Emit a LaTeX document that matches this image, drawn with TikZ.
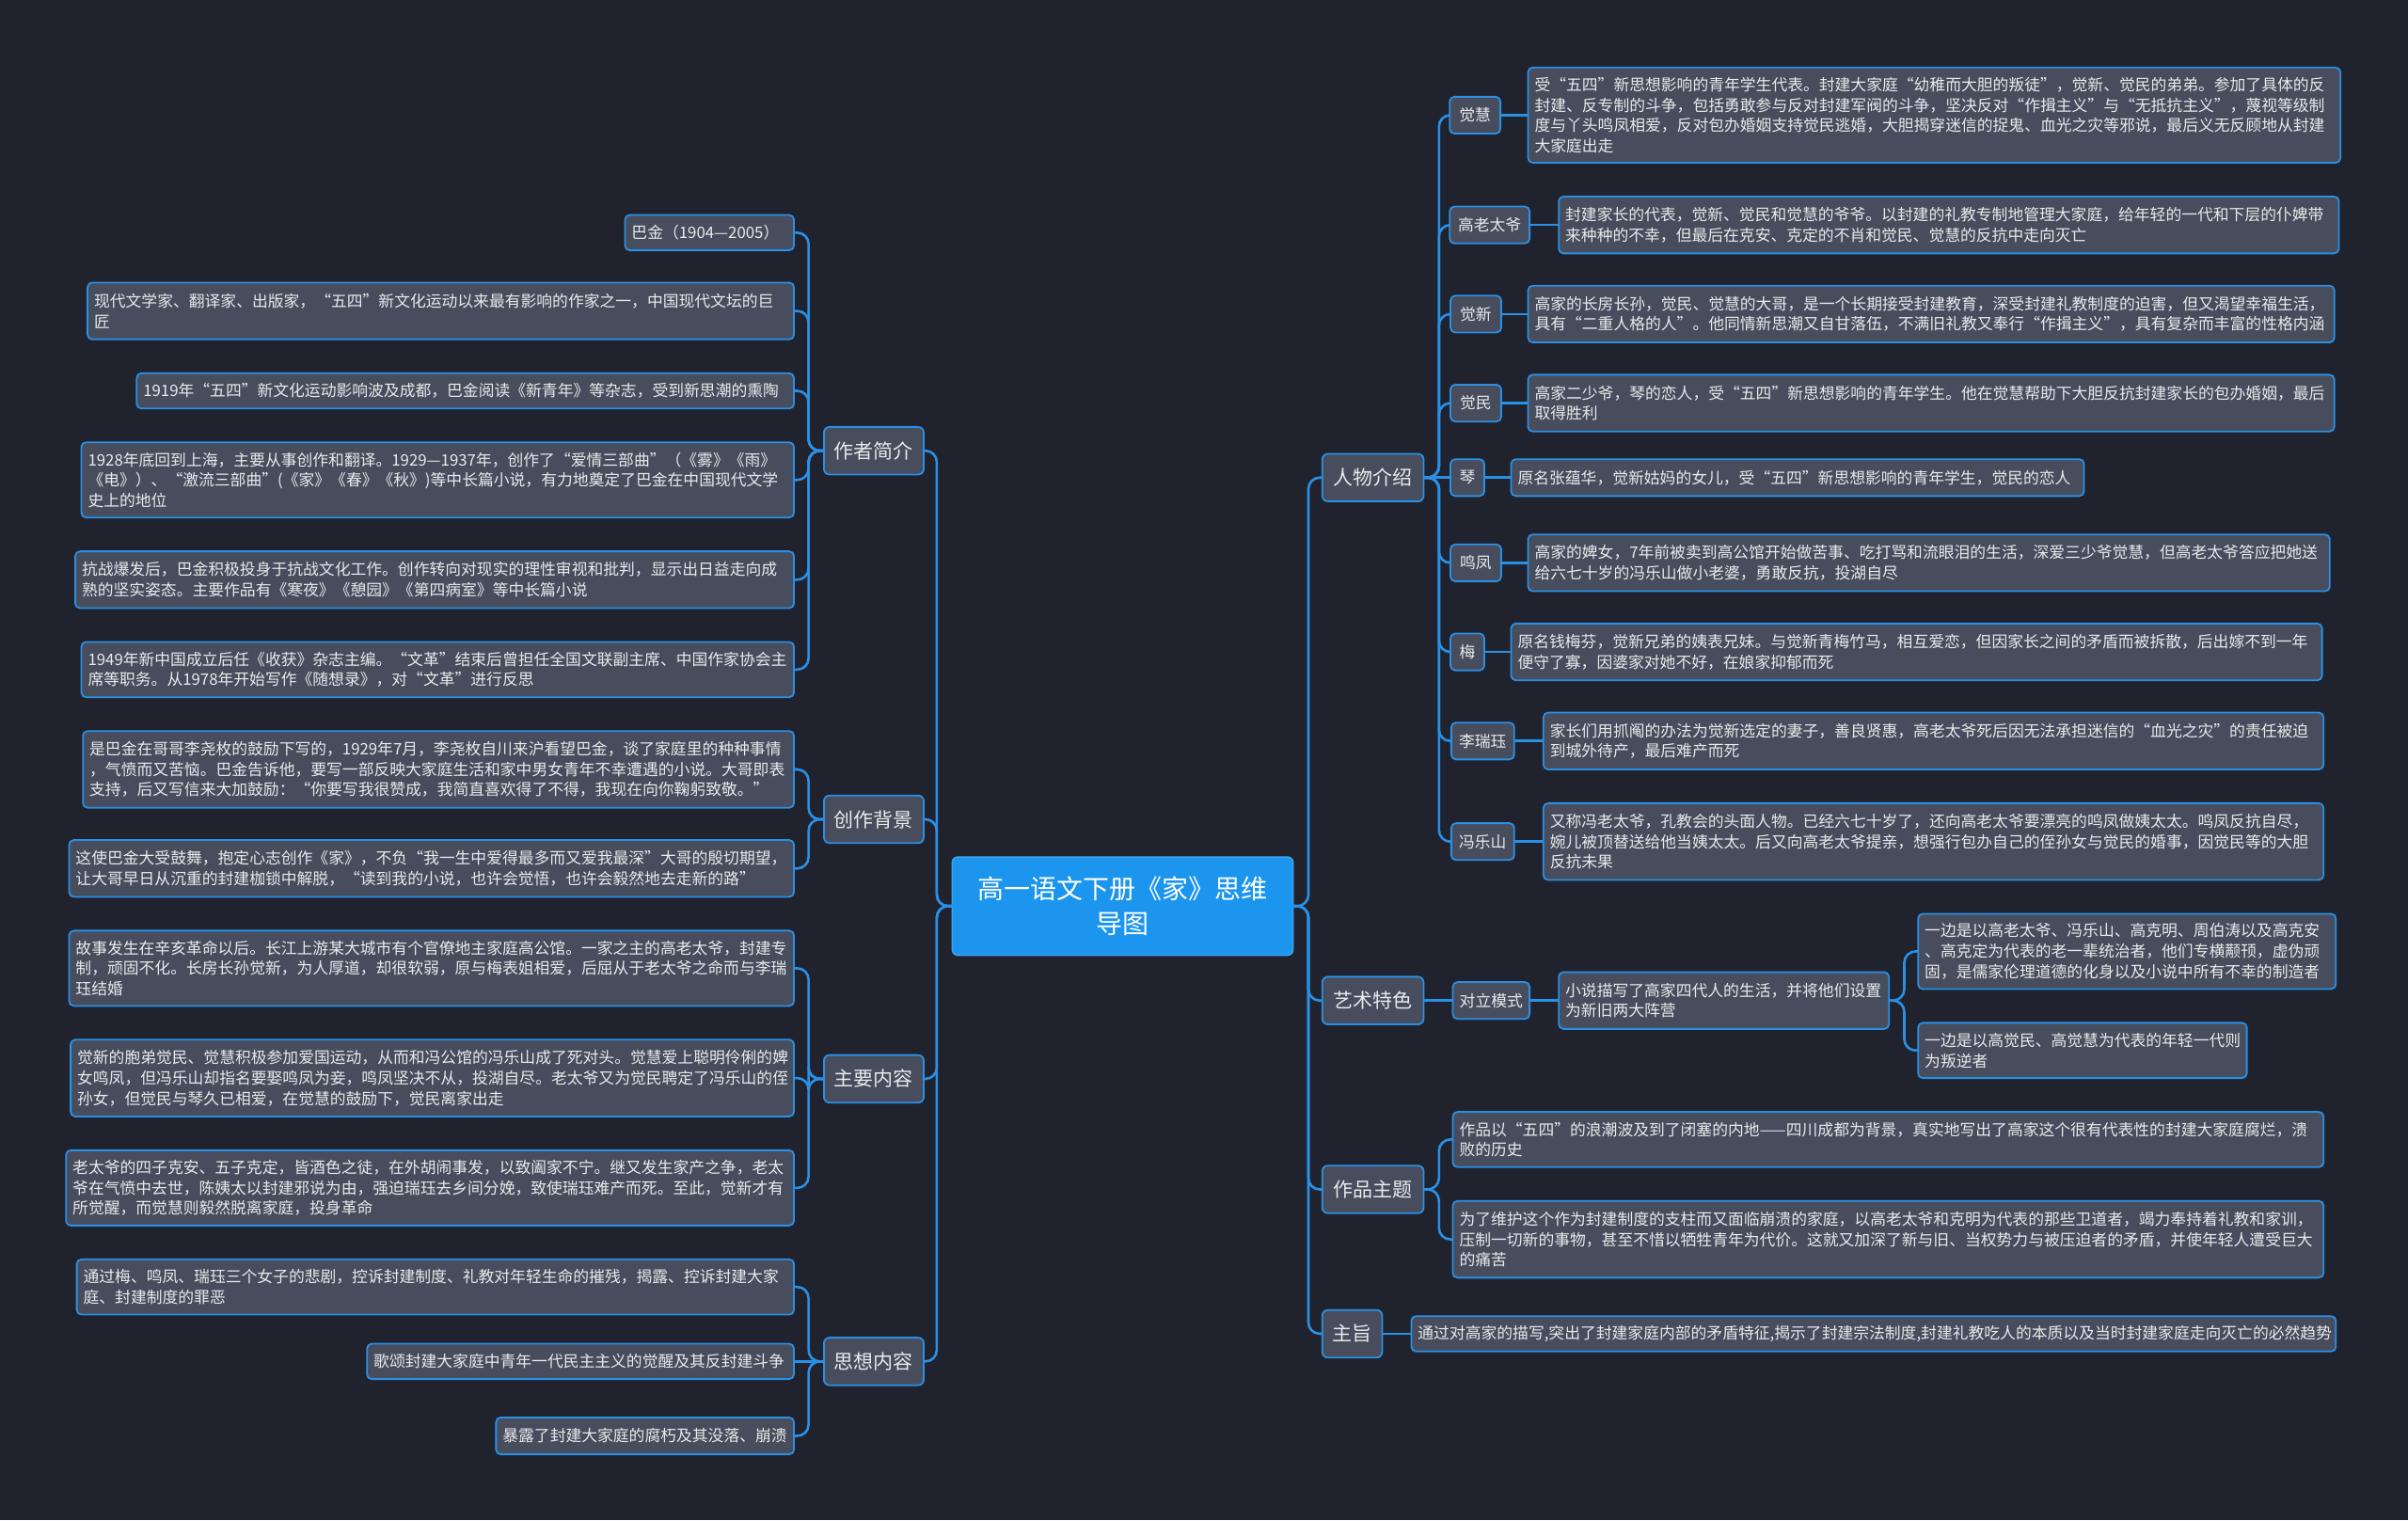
\documentclass[tikz,border=0pt]{standalone}
\usepackage{fontspec}
\setmainfont{Noto Sans CJK SC}
\definecolor{bgc}{HTML}{20232D}
\definecolor{nodefill}{HTML}{474D5C}
\definecolor{edgec}{HTML}{2A90E6}
\definecolor{centerfill}{HTML}{1B95EE}
\definecolor{txt}{HTML}{E8EAED}
\tikzset{
  conn/.style={draw=edgec, line width=2.6pt, rounded corners=12pt},
  leaf/.style={draw=edgec, fill=nodefill, line width=1.8pt, rounded corners=5pt, text=txt, inner xsep=7pt, inner ysep=3pt, align=left, font=\fontsize{16.8}{21.7}\selectfont, outer sep=0pt},
  tpc/.style={draw=edgec, fill=nodefill, line width=1.8pt, rounded corners=6pt, text=txt, inner sep=0pt, outer sep=0pt, font=\fontsize{21}{26}\selectfont},
  sub/.style={draw=edgec, fill=nodefill, line width=1.8pt, rounded corners=5pt, text=txt, inner sep=0pt, outer sep=0pt, font=\fontsize{16.8}{20}\selectfont},
  centre/.style={draw=centerfill!85!white, fill=centerfill, line width=1.5pt, rounded corners=6pt, text=white, inner sep=0pt, outer sep=0pt, align=center, font=\fontsize{28}{37}\selectfont},
  sz/.style n args={2}{minimum width={#1*1.6327pt}, minimum height={#2*1.6327pt}},
}
\newcommand\leafnode[6]{\node[leaf, anchor=north west, text width={(#4-#2)*1.6327pt-14pt}, minimum height={(#5-#3)*1.6327pt}] (#1) at (#2,#3) {#6};}
\newcommand\connL[2]{\draw[conn] (#1.west) -- ++(-10,0) |- (#2.east);}
\newcommand\connR[2]{\draw[conn] (#1.east) -- ++(10,0) |- (#2.west);}
\newcommand\straight[2]{\draw[conn] (#1.east) -- (#2.west);}
\newcommand\straightL[2]{\draw[conn] (#1.west) -- (#2.east);}
\begin{document}
\begin{tikzpicture}[x=1.6327pt, y=-1.6327pt]
\useasboundingbox (0,0) rectangle (1568,990);
\fill[bgc] (0,0) rectangle (1568,990);

% centre
\node[centre, sz={222}{64}] (c) at (731,590) {高一语文下册《家》思维\\导图};

% level 1 left
\node[tpc, sz={65}{31}] (zz) at (569,293.5) {作者简介};
\node[tpc, sz={65}{31}] (bj) at (569,533.5) {创作背景};
\node[tpc, sz={65}{31}] (nr) at (569,702.5) {主要内容};
\node[tpc, sz={65}{31}] (sx) at (569,886.5) {思想内容};
% level 1 right
\node[tpc, sz={66}{31}] (rw) at (894,311) {人物介绍};
\node[tpc, sz={66}{31}] (ys) at (894,651.5) {艺术特色};
\node[tpc, sz={66}{31}] (zt) at (894,774.5) {作品主题};
\node[tpc, sz={39}{31}] (zg) at (880.5,868.5) {主旨};

% left leaves
\leafnode{a1}{407}{140}{517}{163}{巴金（1904—2005）}
\leafnode{a2}{57}{184}{517}{221}{现代文学家、翻译家、出版家，“五四”新文化运动以来最有影响的作家之一，中国现代文坛的巨\\匠}
\leafnode{a3}{89}{243}{517}{266}{1919年“五四”新文化运动影响波及成都，巴金阅读《新青年》等杂志，受到新思潮的熏陶}
\leafnode{a4}{53}{288}{517}{337}{1928年底回到上海，主要从事创作和翻译。1929—1937年，创作了“爱情三部曲”（《雾》《雨》\\《电》）、“激流三部曲”(《家》《春》《秋》)等中长篇小说，有力地奠定了巴金在中国现代文学\\史上的地位}
\leafnode{a5}{49}{359}{517}{396}{抗战爆发后，巴金积极投身于抗战文化工作。创作转向对现实的理性审视和批判，显示出日益走向成\\熟的坚实姿态。主要作品有《寒夜》《憩园》《第四病室》等中长篇小说}
\leafnode{a6}{53}{418}{517}{454}{1949年新中国成立后任《收获》杂志主编。“文革”结束后曾担任全国文联副主席、中国作家协会主\\席等职务。从1978年开始写作《随想录》，对“文革”进行反思}
\leafnode{b1}{54}{476}{517}{526}{是巴金在哥哥李尧枚的鼓励下写的，1929年7月，李尧枚自川来沪看望巴金，谈了家庭里的种种事情\\，气愤而又苦恼。巴金告诉他，要写一部反映大家庭生活和家中男女青年不幸遭遇的小说。大哥即表\\支持，后又写信来大加鼓励：“你要写我很赞成，我简直喜欢得了不得，我现在向你鞠躬致敬。”}
\leafnode{b2}{45}{547}{517}{584}{这使巴金大受鼓舞，抱定心志创作《家》，不负“我一生中爱得最多而又爱我最深”大哥的殷切期望，\\让大哥早日从沉重的封建枷锁中解脱，“读到我的小说，也许会觉悟，也许会毅然地去走新的路”}
\leafnode{c1}{45}{606}{517}{655}{故事发生在辛亥革命以后。长江上游某大城市有个官僚地主家庭高公馆。一家之主的高老太爷，封建专\\制，顽固不化。长房长孙觉新，为人厚道，却很软弱，原与梅表姐相爱，后屈从于老太爷之命而与李瑞\\珏结婚}
\leafnode{c2}{46}{677}{517}{727}{觉新的胞弟觉民、觉慧积极参加爱国运动，从而和冯公馆的冯乐山成了死对头。觉慧爱上聪明伶俐的婢\\女鸣凤，但冯乐山却指名要娶鸣凤为妾，鸣凤坚决不从，投湖自尽。老太爷又为觉民聘定了冯乐山的侄\\孙女，但觉民与琴久已相爱，在觉慧的鼓励下，觉民离家出走}
\leafnode{c3}{43}{749}{517}{798}{老太爷的四子克安、五子克定，皆酒色之徒，在外胡闹事发，以致阖家不宁。继又发生家产之争，老太\\爷在气愤中去世，陈姨太以封建邪说为由，强迫瑞珏去乡间分娩，致使瑞珏难产而死。至此，觉新才有\\所觉醒，而觉慧则毅然脱离家庭，投身革命}
\leafnode{d1}{50}{820}{517}{856}{通过梅、鸣凤、瑞珏三个女子的悲剧，控诉封建制度、礼教对年轻生命的摧残，揭露、控诉封建大家\\庭、封建制度的罪恶}
\leafnode{d2}{239}{875}{517}{898}{歌颂封建大家庭中青年一代民主主义的觉醒及其反封建斗争}
\leafnode{d3}{323}{923}{517}{947}{暴露了封建大家庭的腐朽及其没落、崩溃}

% right names
\node[sub, sz={33}{24}] (n1) at (960.5,75) {觉慧};
\node[sub, sz={52}{24}] (n2) at (970,146.5) {高老太爷};
\node[sub, sz={33}{24}] (n3) at (961,204.5) {觉新};
\node[sub, sz={33}{24}] (n4) at (961,262.5) {觉民};
\node[sub, sz={22}{24}] (n5) at (955.5,311) {琴};
\node[sub, sz={33}{24}] (n6) at (961,366.5) {鸣凤};
\node[sub, sz={22}{24}] (n7) at (955.5,424.5) {梅};
\node[sub, sz={41}{24}] (n8) at (965.5,482.5) {李瑞珏};
\node[sub, sz={41}{24}] (n9) at (965.5,548) {冯乐山};
\node[sub, sz={50}{24}] (dl) at (971,651.5) {对立模式};

% right leaves
\leafnode{r1}{995}{44}{1524}{106}{受“五四”新思想影响的青年学生代表。封建大家庭“幼稚而大胆的叛徒”，觉新、觉民的弟弟。参加了具体的反\\封建、反专制的斗争，包括勇敢参与反对封建军阀的斗争，坚决反对“作揖主义”与“无抵抗主义”，蔑视等级制\\度与丫头鸣凤相爱，反对包办婚姻支持觉民逃婚，大胆揭穿迷信的捉鬼、血光之灾等邪说，最后义无反顾地从封建\\大家庭出走}
\leafnode{r2}{1015}{128}{1523}{165}{封建家长的代表，觉新、觉民和觉慧的爷爷。以封建的礼教专制地管理大家庭，给年轻的一代和下层的仆婢带\\来种种的不幸，但最后在克安、克定的不肖和觉民、觉慧的反抗中走向灭亡}
\leafnode{r3}{995}{186}{1520}{223}{高家的长房长孙，觉民、觉慧的大哥，是一个长期接受封建教育，深受封建礼教制度的迫害，但又渴望幸福生活，\\具有“二重人格的人”。他同情新思潮又自甘落伍，不满旧礼教又奉行“作揖主义”，具有复杂而丰富的性格内涵}
\leafnode{r4}{995}{244}{1520}{281}{高家二少爷，琴的恋人，受“五四”新思想影响的青年学生。他在觉慧帮助下大胆反抗封建家长的包办婚姻，最后\\取得胜利}
\leafnode{r5}{984}{299}{1357}{323}{原名张蕴华，觉新姑妈的女儿，受“五四”新思想影响的青年学生，觉民的恋人}
\leafnode{r6}{995}{348}{1517}{385}{高家的婢女，7年前被卖到高公馆开始做苦事、吃打骂和流眼泪的生活，深爱三少爷觉慧，但高老太爷答应把她送\\给六七十岁的冯乐山做小老婆，勇敢反抗，投湖自尽}
\leafnode{r7}{984}{406}{1512}{443}{原名钱梅芬，觉新兄弟的姨表兄妹。与觉新青梅竹马，相互爱恋，但因家长之间的矛盾而被拆散，后出嫁不到一年\\便守了寡，因婆家对她不好，在娘家抑郁而死}
\leafnode{r8}{1005}{464}{1513}{501}{家长们用抓阄的办法为觉新选定的妻子，善良贤惠，高老太爷死后因无法承担迷信的“血光之灾”的责任被迫\\到城外待产，最后难产而死}
\leafnode{r9}{1005}{523}{1513}{573}{又称冯老太爷，孔教会的头面人物。已经六七十岁了，还向高老太爷要漂亮的鸣凤做姨太太。鸣凤反抗自尽，\\婉儿被顶替送给他当姨太太。后又向高老太爷提亲，想强行包办自己的侄孙女与觉民的婚事，因觉民等的大胆\\反抗未果}
\leafnode{q}{1015}{633}{1230}{670}{小说描写了高家四代人的生活，并将他们设置\\为新旧两大阵营}
\leafnode{s1}{1249}{595}{1521}{644}{一边是以高老太爷、冯乐山、高克明、周伯涛以及高克安\\、高克定为代表的老一辈统治者，他们专横颟顸，虚伪顽\\固，是儒家伦理道德的化身以及小说中所有不幸的制造者}
\leafnode{s2}{1249}{666}{1463}{702}{一边是以高觉民、高觉慧为代表的年轻一代则\\为叛逆者}
\leafnode{t1}{946}{724}{1513}{760}{作品以“五四”的浪潮波及到了闭塞的内地——四川成都为背景，真实地写出了高家这个很有代表性的封建大家庭腐烂，溃\\败的历史}
\leafnode{t2}{946}{782}{1513}{832}{为了维护这个作为封建制度的支柱而又面临崩溃的家庭，以高老太爷和克明为代表的那些卫道者，竭力奉持着礼教和家训，\\压制一切新的事物，甚至不惜以牺牲青年为代价。这就又加深了新与旧、当权势力与被压迫者的矛盾，并使年轻人遭受巨大\\的痛苦}
\leafnode{z}{919}{857}{1521}{880}{通过对高家的描写,突出了封建家庭内部的矛盾特征,揭示了封建宗法制度,封建礼教吃人的本质以及当时封建家庭走向灭亡的必然趋势}

% connectors: centre
\connL{c}{zz} \connL{c}{bj} \connL{c}{nr} \connL{c}{sx}
\connR{c}{rw} \connR{c}{ys} \connR{c}{zt} \connR{c}{zg}
% left
\connL{zz}{a1} \connL{zz}{a2} \connL{zz}{a3} \connL{zz}{a4} \connL{zz}{a5} \connL{zz}{a6}
\connL{bj}{b1} \connL{bj}{b2}
\connL{nr}{c1} \connL{nr}{c2} \connL{nr}{c3}
\connL{sx}{d1} \straightL{sx}{d2} \connL{sx}{d3}
% right
\connR{rw}{n1} \connR{rw}{n2} \connR{rw}{n3} \connR{rw}{n4} \straight{rw}{n5}
\connR{rw}{n6} \connR{rw}{n7} \connR{rw}{n8} \connR{rw}{n9}
\straight{n1}{r1} \straight{n2}{r2} \straight{n3}{r3} \straight{n4}{r4} \straight{n5}{r5}
\straight{n6}{r6} \straight{n7}{r7} \straight{n8}{r8} \straight{n9}{r9}
\straight{ys}{dl} \straight{dl}{q}
\connR{q}{s1} \connR{q}{s2}
\connR{zt}{t1} \connR{zt}{t2}
\straight{zg}{z}
\end{tikzpicture}
\end{document}
